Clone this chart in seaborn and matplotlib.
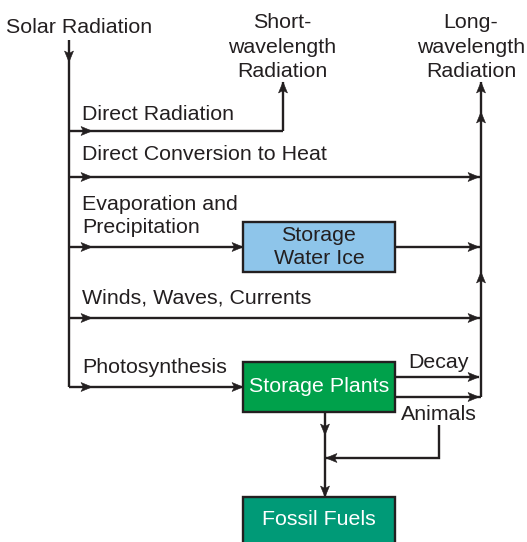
import matplotlib
matplotlib.use("Agg")
import matplotlib.pyplot as plt
import seaborn as sns
from matplotlib.patches import Polygon, Rectangle

# ---- text content ----
source_label = "Solar Radiation"
sink_labels = ["Short-\nwavelength\nRadiation", "Long-\nwavelength\nRadiation"]
pathway_labels = ["Direct Radiation", "Direct Conversion to Heat",
                  "Evaporation and\nPrecipitation", "Winds, Waves, Currents",
                  "Photosynthesis"]
store_labels = ["Storage\nWater Ice", "Storage Plants", "Fossil Fuels"]
plant_outflows = ["Decay", "Animals"]

# ---- colours ----
ink = "#231f20"
store_fill = ["#8ec5ea", "#00a14b", "#009a77"]
store_text = [ink, "white", "white"]

# ---- layout (pixel coords, y grows downward) ----
trunk_x = 69
trunk_top = 40
pathway_y = [131, 177, 247, 318, 387]
pathway_end = [283, 481, 243, 481, 243]
pathway_label_base = [120, 160, 233, 304, 373]   # baseline of last line
short_x, short_top = 283, 82
long_x, long_top, long_bottom = 481, 82, 397
box_x0, box_x1 = 243, 395
box_y = [(222, 272), (362, 412), (497, 548)]
outflow_y = [377, 397]
animals_x, join_y = 439, 458
down_x = 325

sns.set_style("white")
plt.rcParams["font.family"] = ["Liberation Sans", "DejaVu Sans"]
FS = 15.4
LW = 1.7

fig = plt.figure(figsize=(5.27, 5.42), dpi=100)
ax = fig.add_axes([0, 0, 1, 1])
ax.set_xlim(0, 527)
ax.set_ylim(542, 0)
ax.axis("off")


def line(xs, ys):
    ax.plot(xs, ys, color=ink, lw=LW, solid_capstyle="butt", solid_joinstyle="miter")


def head(x, y, dx, dy, L=11, W=4.5, notch=2.5):
    px, py = -dy, dx
    pts = [(x, y),
           (x - L * dx + W * px, y - L * dy + W * py),
           (x - (L - notch) * dx, y - (L - notch) * dy),
           (x - L * dx - W * px, y - L * dy - W * py)]
    ax.add_patch(Polygon(pts, closed=True, fc=ink, ec=ink, lw=0.4, zorder=3))


# source
ax.text(6, 33, source_label, fontsize=FS, color=ink, va="baseline", ha="left")
line([trunk_x, trunk_x], [trunk_top, pathway_y[-1]])
head(trunk_x, 62, 0, 1)

# sinks
ax.text(short_x - 1, 77, sink_labels[0], fontsize=FS, color=ink, ha="center",
        va="baseline", multialignment="center", linespacing=1.36)
ax.text(471, 77, sink_labels[1], fontsize=FS, color=ink, ha="center",
        va="baseline", multialignment="center", linespacing=1.36)

# pathways from the trunk
for lab, y, xe, yb in zip(pathway_labels, pathway_y, pathway_end, pathway_label_base):
    line([trunk_x, xe], [y, y])
    head(92, y, 1, 0)
    ax.text(82, yb, lab, fontsize=FS, color=ink, va="baseline", ha="left", linespacing=1.29)
    if xe == long_x:
        head(xe - 2, y, 1, 0)
    elif xe == box_x0:
        head(xe, y, 1, 0)

# direct radiation turns up to short-wavelength
line([short_x, short_x], [pathway_y[0], short_top])
head(short_x, short_top, 0, -1)

# long-wavelength collector
line([long_x, long_x], [long_bottom, long_top])
head(long_x, long_top, 0, -1)
head(long_x, 112, 0, -1)
head(long_x, 272, 0, -1)

# storage boxes
for lab, fc, tc, (y0, y1) in zip(store_labels, store_fill, store_text, box_y):
    ax.add_patch(Rectangle((box_x0, y0), box_x1 - box_x0, y1 - y0, fc=fc, ec=ink,
                           lw=LW, zorder=2))
    cy = (y0 + 542) / 2 if y1 > 542 else (y0 + y1) / 2
    ax.text((box_x0 + box_x1) / 2, cy, lab, fontsize=FS, color=tc, ha="center",
            va="center", multialignment="center", linespacing=1.29, zorder=4)

# water ice -> long wave
line([box_x1, long_x], [pathway_y[2], pathway_y[2]])
head(long_x - 2, pathway_y[2], 1, 0)

# plant outflows
for lab, y in zip(plant_outflows, outflow_y):
    line([box_x1, long_x if lab == "Animals" else long_x - 2], [y, y])
    head(long_x - 2, y, 1, 0)
ax.text(animals_x, 368, plant_outflows[0], fontsize=FS, color=ink, ha="center", va="baseline")
ax.text(animals_x, 420, plant_outflows[1], fontsize=FS, color=ink, ha="center", va="baseline")

# animals -> fossil
line([animals_x, animals_x, down_x], [425, join_y, join_y])
head(down_x + 1, join_y, -1, 0)

# plants -> fossil fuels
line([down_x, down_x], [box_y[1][1], box_y[2][0]])
head(down_x, 435, 0, 1)
head(down_x, box_y[2][0], 0, 1)

fig.savefig("out.png", dpi=100)
